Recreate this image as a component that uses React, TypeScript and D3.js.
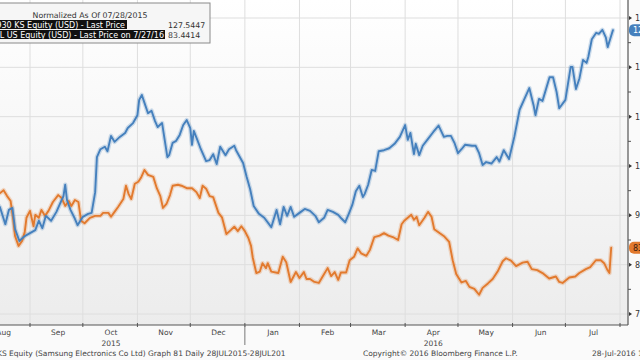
import React from "react";
import * as d3 from "d3";

// Day offsets from 1 Sep 2015
const blueDays = [-35,-17,-14,-12,-10,-8.5,-6,-3,1,3,5,7,9,12,15,17,19,20,21,23,25.5,27,30,33,35,37,38,40,42.5,44,46,48,51,54,55.5,58.5,61,62,63.5,65,67,69,71,72.5,75,78,79,81,83,85,87,89,91,92,93,95,97,100,102,104,106,108,111,113,116,117,121,123,125,127,130,133,137,140,142,144,146,148,150,153,156,159,162,164,167,169,172,175,177,179,181,183,185,187,189,190,192,194,196,198,201,204,207,210,213,214.5,216,218,219,221,223,226,229,232,235,237,239,241,243,245,247,251,253,255,257,259,262,265,266.5,269,272,275,278,281,283.5,286,287,289,291,295,297,299,300.5,304,307,308,310,312,314,316,317,319,321.5,323,325,327,328,330,331];
const blueValues = [100,91.6,88.2,91.1,91.5,87.2,84.8,85.8,86.6,87.0,88.9,87.4,89.9,88.9,90.7,92.3,93.9,96.2,93.1,91.1,89.3,88.0,89.7,90.3,90.5,94.7,101.8,103.4,103.9,103.0,106.1,104.9,105.9,106.7,107.7,108.7,110.3,113.4,114.4,112.8,110.7,111.2,109.1,107.9,108.7,101.8,102.2,104.7,105.1,106.3,108.3,109.3,107.7,104.3,107.1,105.3,103.4,101.0,101.2,102.4,100.4,103.9,102.2,103.4,104.1,103.2,100.6,97.8,95.3,91.9,90.3,89.5,87.6,91.1,88.2,91.7,89.9,91.7,89.7,90.5,91.3,90.9,89.9,88.6,89.5,91.1,90.7,90.1,89.3,88.6,90.3,92.1,94.9,96.0,93.7,94.3,96.2,99.2,99.0,103.0,103.2,103.6,104.5,105.9,108.3,105.3,106.7,102.4,104.5,102.2,104.1,105.5,106.9,108.2,105.9,106.1,106.1,104.7,102.6,103.4,104.3,104.1,104.1,102.6,100.2,100.8,100.5,101.8,100.9,103.2,101.4,105.9,111.4,113.8,115.8,112.2,110.3,113.6,113.2,118.0,118.0,115.0,111.7,113.4,120.1,120.1,115.6,117.8,121.5,120.9,122.1,125.7,127.0,126.8,127.6,126.0,124.1,126.4,127.54];

const orangeDays = [-35,-17,-15,-13,-11,-9.5,-8.5,-6.5,-4.5,-3,-2,0,2,3,5,6.5,8.5,10.5,13,16,18,20,22,23.5,25.5,27.5,29,31,34,37,40,41.5,44.5,46,48,50,53,54.5,56,57.5,59.5,61.5,63,65,67,70,72,74,75.5,77.5,79.5,81,84,86,89,92,94.5,96.4,98,100,102,104,107,109,110.5,111.5,114,116,118,120,122,124,125.5,126.5,128.5,130.5,132,134,135,137,141,143.5,145.5,148,151,153,155.5,157,159,161.5,164,166,169,171,173,175,176.5,179.5,181.5,184,186,188,191,193,195.5,198.5,201,203.5,206,209,211,212.5,214.5,216.5,218,219.5,221,224,226,228,229.5,232.5,235.3,238,240,242,245,247.5,249.5,252.3,255,257,260,262.7,265.5,268.4,270.3,273.1,276,279.7,282.5,284.9,288,291,294.8,298.6,300.5,302.4,306.2,309.6,311.9,315.6,318.1,321.3,324.1,326,327.9,329,330];
const orangeValues = [100,94.5,95.1,93.9,92.9,89.1,85.8,83.8,84.8,86.6,89.5,90.9,87.8,90.1,89.5,91.1,89.9,90.9,92.7,94.1,93.5,91.9,92.9,91.9,93.1,92.7,88.9,88.4,89.5,89.9,89.9,90.5,90.5,89.7,90.7,91.7,93.3,96.0,94.3,93.3,96.4,96.8,97.6,99.2,98.2,97.8,95.5,93.9,91.5,92.3,94.1,96.0,96.2,96.0,95.5,95.5,94.7,93.5,96.0,95.4,93.9,93.7,90.5,89.6,87.6,86.2,87.0,87.7,86.8,87.8,86.8,85.4,83.8,81.4,78.3,78.6,80.3,79.3,80.3,78.6,78.3,81.6,80.5,76.5,78.5,77.3,78.5,77.1,77.1,76.5,76.3,77.5,79.3,77.7,78.5,76.9,78.4,78.4,80.9,81.6,83.3,82.3,81.8,83.0,85.6,85.9,86.4,85.9,85.6,85.0,88.2,88.9,89.5,90.1,89.1,89.7,88.0,89.5,90.7,89.7,87.2,86.4,85.7,84.6,80.9,78.1,76.4,76.7,75.5,75.1,73.9,75.3,76.2,77.1,78.6,80.7,81.3,80.8,79.7,80.4,80.6,79.1,78.9,78.3,77.2,77.6,76.5,76.3,77.4,77.6,78.3,79.1,79.5,80.9,80.9,80.3,78.9,78.3,83.44];

const yTicks = [70, 80, 90, 100, 110, 120, 130];
const monthLabels = ["Aug", "Sep", "Oct", "Nov", "Dec", "Jan", "Feb", "Mar", "Apr", "May", "Jun", "Jul"];
const yearLabels = [{ label: "2015", month: 10 }, { label: "2016", month: 4 }];

const legendTitle = "Normalized As Of 07/28/2015";
const legendNames = ["005930 KS Equity (USD) - Last Price", "AAPL US Equity (USD) - Last Price on 7/27/16"];
const legendValues = ["127.5447", "83.4414"];
const badgeValues = ["127.54", "83.44"];
const footerLeft = "KS Equity (Samsung Electronics Co Ltd) Graph 81   Daily 28JUL2015-28JUL201";
const footerMid = "Copyright\u00A9 2016 Bloomberg Finance L.P.";
const footerRight = "28-Jul-2016 11:29:45";

const BLUE = "#4580bd";
const ORANGE = "#e27a2e";
const FONT = "'DejaVu Sans', Verdana, sans-serif";

export default function App() {
  const W = 640, H = 360;
  const plotRight = 628, plotBottom = 325;
  const base = new Date(2015, 8, 1);
  const toDate = (d: number) => new Date(base.getTime() + d * 86400000);

  const x = d3.scaleTime().domain([new Date(2015, 8, 1), new Date(2016, 7, 1)]).range([30, 620]);
  const y = d3.scaleLinear().domain([70, 130]).range([314, 18]);

  const blue = blueDays.map((d, i) => ({ date: toDate(d), v: blueValues[i] }));
  const orange = orangeDays.map((d, i) => ({ date: toDate(d), v: orangeValues[i] }));
  const line = d3.line<{ date: Date; v: number }>().x(p => x(p.date)).y(p => y(p.v));

  const monthStarts = d3.timeMonth.range(new Date(2015, 7, 1), new Date(2016, 7, 2));
  const minorTicks = d3.range(75, 130, 10);

  return (
    <svg width={W} height={H} style={{ position: "absolute", left: 0, top: 0, background: "#fbfbfb" }} fontFamily={FONT}>
      <defs>
        <linearGradient id="bg" x1="0" y1="0" x2="0" y2="1">
          <stop offset="0" stopColor="#ffffff" />
          <stop offset="1" stopColor="#ececec" />
        </linearGradient>
        <clipPath id="plotClip">
          <rect x={0} y={0} width={plotRight} height={plotBottom} />
        </clipPath>
      </defs>
      <rect x={0} y={0} width={W} height={H} fill="#fafafa" />
      <rect x={0} y={0} width={plotRight} height={plotBottom} fill="url(#bg)" />

      {/* grid */}
      {monthStarts.map((m, i) => (
        <line key={"vg" + i} x1={x(m)} x2={x(m)} y1={0} y2={plotBottom} stroke="#dedede" strokeWidth={1} />
      ))}
      {yTicks.map(t => (
        <line key={"hg" + t} x1={0} x2={plotRight} y1={y(t)} y2={y(t)} stroke="#dedede" strokeWidth={1} />
      ))}

      {/* series */}
      <g clipPath="url(#plotClip)" fill="none" strokeLinejoin="round" strokeLinecap="round">
        <path d={line(orange) || ""} stroke={ORANGE} strokeOpacity={0.25} strokeWidth={4.5} />
        <path d={line(blue) || ""} stroke={BLUE} strokeOpacity={0.25} strokeWidth={4.5} />
        <path d={line(orange) || ""} stroke={ORANGE} strokeWidth={1.9} />
        <path d={line(blue) || ""} stroke={BLUE} strokeWidth={1.9} />
      </g>

      {/* x axis */}
      <line x1={0} x2={plotRight} y1={plotBottom} y2={plotBottom} stroke="#555" strokeWidth={1.2} />
      {monthStarts.map((m, i) => (
        <line key={"xt" + i} x1={x(m)} x2={x(m)} y1={plotBottom - 2} y2={plotBottom + 2} stroke="#555" />
      ))}
      <line x1={x(new Date(2016, 0, 1))} x2={x(new Date(2016, 0, 1))} y1={plotBottom} y2={plotBottom + 20} stroke="#777" />
      {monthStarts.map((m, i) => {
        const mid = x(new Date(m.getFullYear(), m.getMonth(), 17));
        return (
          <text key={"ml" + i} x={mid} y={335} fontSize={7.5} fill="#444" textAnchor="middle">
            {monthLabels[i]}
          </text>
        );
      })}
      {yearLabels.map(yl => {
        const yr = +yl.label;
        const mid = x(new Date(yr, yl.month - 1, 17));
        return (
          <text key={yl.label} x={mid} y={346} fontSize={7.5} fill="#444" textAnchor="middle">
            {yl.label}
          </text>
        );
      })}

      {/* right axis */}
      <line x1={plotRight} x2={plotRight} y1={0} y2={plotBottom} stroke="#555" strokeWidth={1.2} />
      {yTicks.map(t => (
        <g key={"yt" + t}>
          <path d={`M${plotRight + 1},${y(t) - 2} L${plotRight + 4},${y(t)} L${plotRight + 1},${y(t) + 2} Z`} fill="#333" />
          <text x={635} y={y(t) + 3} fontSize={8} fill="#333">{t}</text>
        </g>
      ))}
      {minorTicks.map(t => (
        <line key={"mt" + t} x1={plotRight} x2={plotRight + 3} y1={y(t)} y2={y(t)} stroke="#555" />
      ))}

      {/* last value badges */}
      <rect x={629} y={y(blueValues[blueValues.length - 1]) - 6} width={34} height={12} rx={5} fill={BLUE} />
      <text x={633} y={y(blueValues[blueValues.length - 1]) + 3} fontSize={8} fill="#fff">{badgeValues[0]}</text>
      <rect x={629} y={y(orangeValues[orangeValues.length - 1]) - 6} width={34} height={12} rx={5} fill={ORANGE} />
      <text x={633} y={y(orangeValues[orangeValues.length - 1]) + 3} fontSize={8} fill="#3a2010">{badgeValues[1]}</text>

      {/* legend */}
      <rect x={-3} y={3} width={213} height={40} fill="#f6f6f6" stroke="#8a8a8a" strokeWidth={1} />
      <text x={90} y={18} fontSize={7.8} fill="#333" textAnchor="middle">{legendTitle}</text>
      <rect x={-3} y={20} width={130} height={9} fill="#111" />
      <text x={125} y={27.5} fontSize={8} fill="#fff" textAnchor="end">{legendNames[0]}</text>
      <text x={168} y={27.5} fontSize={7.8} fill="#333">{legendValues[0]}</text>
      <rect x={-3} y={30} width={168} height={9} fill="#111" />
      <text x={164} y={37.5} fontSize={8} fill="#fff" textAnchor="end">{legendNames[1]}</text>
      <text x={168} y={37.5} fontSize={7.8} fill="#333">{legendValues[1]}</text>

      {/* footer */}
      <text x={-3} y={356} fontSize={7.5} fill="#444">{footerLeft}</text>
      <text x={363} y={356} fontSize={7.5} fill="#444">{footerMid}</text>
      <text x={592} y={356} fontSize={7.5} fill="#444">{footerRight}</text>
    </svg>
  );
}
